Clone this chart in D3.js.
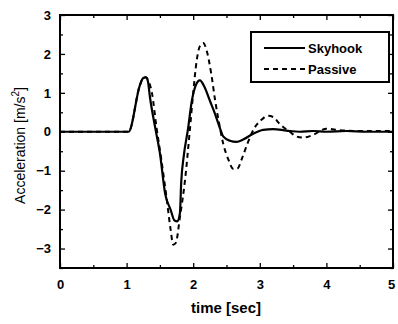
<!DOCTYPE html>
<html>
<head>
<meta charset="utf-8">
<script src="https://cdn.jsdelivr.net/npm/d3@7"></script>
<style>
  body { margin: 0; background: #fff; }
  text { font-family: "Liberation Sans", Arial, sans-serif; fill: #000; }
</style>
</head>
<body>
<svg></svg>
<script>
// x: time [sec], y: acceleration [m/s^2]

const skyhook = [
  [0, 0], [1.03, 0], [1.2, 1.2], [1.25, 1.38], [1.29, 1.4], [1.32, 1.3], [1.35, 0.9],
  [1.43, 0.1], [1.5, -0.55], [1.58, -1.6], [1.66, -2.0], [1.72, -2.28], [1.76, -2.3],
  [1.8, -2.1], [1.82, -1.3], [1.86, -0.6], [1.92, 0.05], [1.98, 0.8], [2.04, 1.2],
  [2.1, 1.32], [2.17, 1.15], [2.25, 0.8], [2.33, 0.45], [2.4, 0.1], [2.45, -0.12],
  [2.55, -0.23], [2.65, -0.26], [2.75, -0.2], [2.9, -0.05], [3.05, 0.05], [3.2, 0.07],
  [3.4, 0.03], [3.6, 0.0], [3.8, 0.02], [4.0, 0.0], [4.3, 0.02], [4.6, 0.0], [5, 0.0]
];

const passive = [
  [0, 0], [1.03, 0], [1.2, 1.2], [1.25, 1.38], [1.29, 1.4], [1.33, 1.3], [1.38, 1.0],
  [1.45, 0.1], [1.52, -0.7], [1.6, -1.7], [1.66, -2.5], [1.7, -2.9], [1.74, -2.85],
  [1.8, -2.2], [1.88, -1.2], [1.95, 0.05], [2.0, 1.0], [2.05, 1.8], [2.1, 2.2],
  [2.15, 2.28], [2.2, 2.1], [2.27, 1.5], [2.33, 0.8], [2.38, 0.3], [2.45, -0.3],
  [2.53, -0.72], [2.6, -0.95], [2.66, -0.95], [2.74, -0.65], [2.82, -0.28], [2.92, 0.1],
  [3.02, 0.3], [3.12, 0.41], [3.2, 0.38], [3.3, 0.2], [3.45, 0.0], [3.55, -0.12],
  [3.65, -0.15], [3.8, -0.08], [4.0, 0.08], [4.2, 0.04], [4.5, 0.02], [5, 0.02]
];

const xTicks = [0, 1, 2, 3, 4, 5];
const yTicks = [-3, -2, -1, 0, 1, 2, 3];
const xMinor = d3.range(0.5, 5, 1);
const yMinor = d3.range(-3.5, 3, 1);
const legendNames = ["Skyhook", "Passive"];

const width = 398;
const height = 324;
const plotL = 60, plotR = 393, plotT = 15, plotB = 268;

// Scales
const xScale = d3.scaleLinear().domain([0, 5]).range([plotL, plotR]);
const yScale = d3.scaleLinear().domain([-3.5, 3]).range([plotB, plotT]);

const svg = d3.select("svg")
    .attr("width", width)
    .attr("height", height);

// Axes, ticks pointing inward
function tickAxis(axis, scale, values, size, transform) {
  svg.append("g")
      .attr("transform", transform)
      .call(axis(scale).tickValues(values).tickSize(size).tickSizeOuter(0).tickFormat(""))
      .call(g => g.select(".domain").remove())
      .call(g => g.selectAll("line").attr("stroke", "#000").attr("stroke-width", 1.3));
}

tickAxis(d3.axisTop, xScale, xTicks, 5, `translate(0,${plotB})`);
tickAxis(d3.axisTop, xScale, xMinor, 3, `translate(0,${plotB})`);
tickAxis(d3.axisBottom, xScale, xTicks, 5, `translate(0,${plotT})`);
tickAxis(d3.axisBottom, xScale, xMinor, 3, `translate(0,${plotT})`);
tickAxis(d3.axisRight, yScale, yTicks, 5, `translate(${plotL},0)`);
tickAxis(d3.axisRight, yScale, yMinor, 3, `translate(${plotL},0)`);
tickAxis(d3.axisLeft, yScale, yTicks, 5, `translate(${plotR},0)`);
tickAxis(d3.axisLeft, yScale, yMinor, 3, `translate(${plotR},0)`);

// tick labels
svg.append("g")
    .attr("transform", `translate(0,${plotB})`)
    .call(d3.axisBottom(xScale).tickValues(xTicks).tickSize(0).tickPadding(12)
      .tickFormat(d3.format("d")))
    .call(g => g.select(".domain").remove())
    .call(g => g.selectAll("text").attr("font-size", 13).attr("font-weight", "bold"))
    .call(g => g.selectAll("text").filter(d => d === 5).attr("dx", -2));

svg.append("g")
    .attr("transform", `translate(${plotL},0)`)
    .call(d3.axisLeft(yScale).tickValues(yTicks).tickSize(0).tickPadding(9)
      .tickFormat(d3.format("d")))
    .call(g => g.select(".domain").remove())
    .call(g => g.selectAll("text").attr("font-size", 13).attr("font-weight", "bold"));

// frame
svg.append("rect")
    .attr("x", plotL).attr("y", plotT)
    .attr("width", plotR - plotL).attr("height", plotB - plotT)
    .attr("fill", "none").attr("stroke", "#000").attr("stroke-width", 2);

// lines
const line = d3.line()
    .x(d => xScale(d[0]))
    .y(d => yScale(d[1]))
    .curve(d3.curveMonotoneX);

svg.append("path")
    .datum(passive)
    .attr("d", line)
    .attr("fill", "none")
    .attr("stroke", "#000")
    .attr("stroke-width", 2)
    .attr("stroke-dasharray", "5,4");

svg.append("path")
    .datum(skyhook)
    .attr("d", line)
    .attr("fill", "none")
    .attr("stroke", "#000")
    .attr("stroke-width", 2.2);

// legend
const legend = svg.append("g");
legend.append("rect")
    .attr("x", 251).attr("y", 32)
    .attr("width", 138).attr("height", 50)
    .attr("fill", "#fff").attr("stroke", "#000").attr("stroke-width", 2);

legendNames.forEach((name, i) => {
  const y = 48 + i * 21;
  legend.append("line")
      .attr("x1", 264).attr("x2", 305)
      .attr("y1", y).attr("y2", y)
      .attr("stroke", "#000").attr("stroke-width", 2)
      .attr("stroke-dasharray", i ? "5,4" : null);
  legend.append("text")
      .attr("x", 308).attr("y", y + 5)
      .attr("font-size", 13).attr("font-weight", "bold")
      .text(name);
});

// axis labels
svg.append("text")
    .attr("x", 226).attr("y", 313)
    .attr("text-anchor", "middle")
    .attr("font-size", 15).attr("font-weight", "bold")
    .text("time [sec]");

const ylab = svg.append("text")
    .attr("transform", `translate(25,${(plotT + plotB) / 2 + 4}) rotate(-90)`)
    .attr("text-anchor", "middle")
    .attr("font-size", 14);
ylab.append("tspan").text("Acceleration [m/s");
ylab.append("tspan").attr("font-size", 10).attr("dy", -6).text("2");
ylab.append("tspan").attr("dy", 6).text("]");
</script>
</body>
</html>
